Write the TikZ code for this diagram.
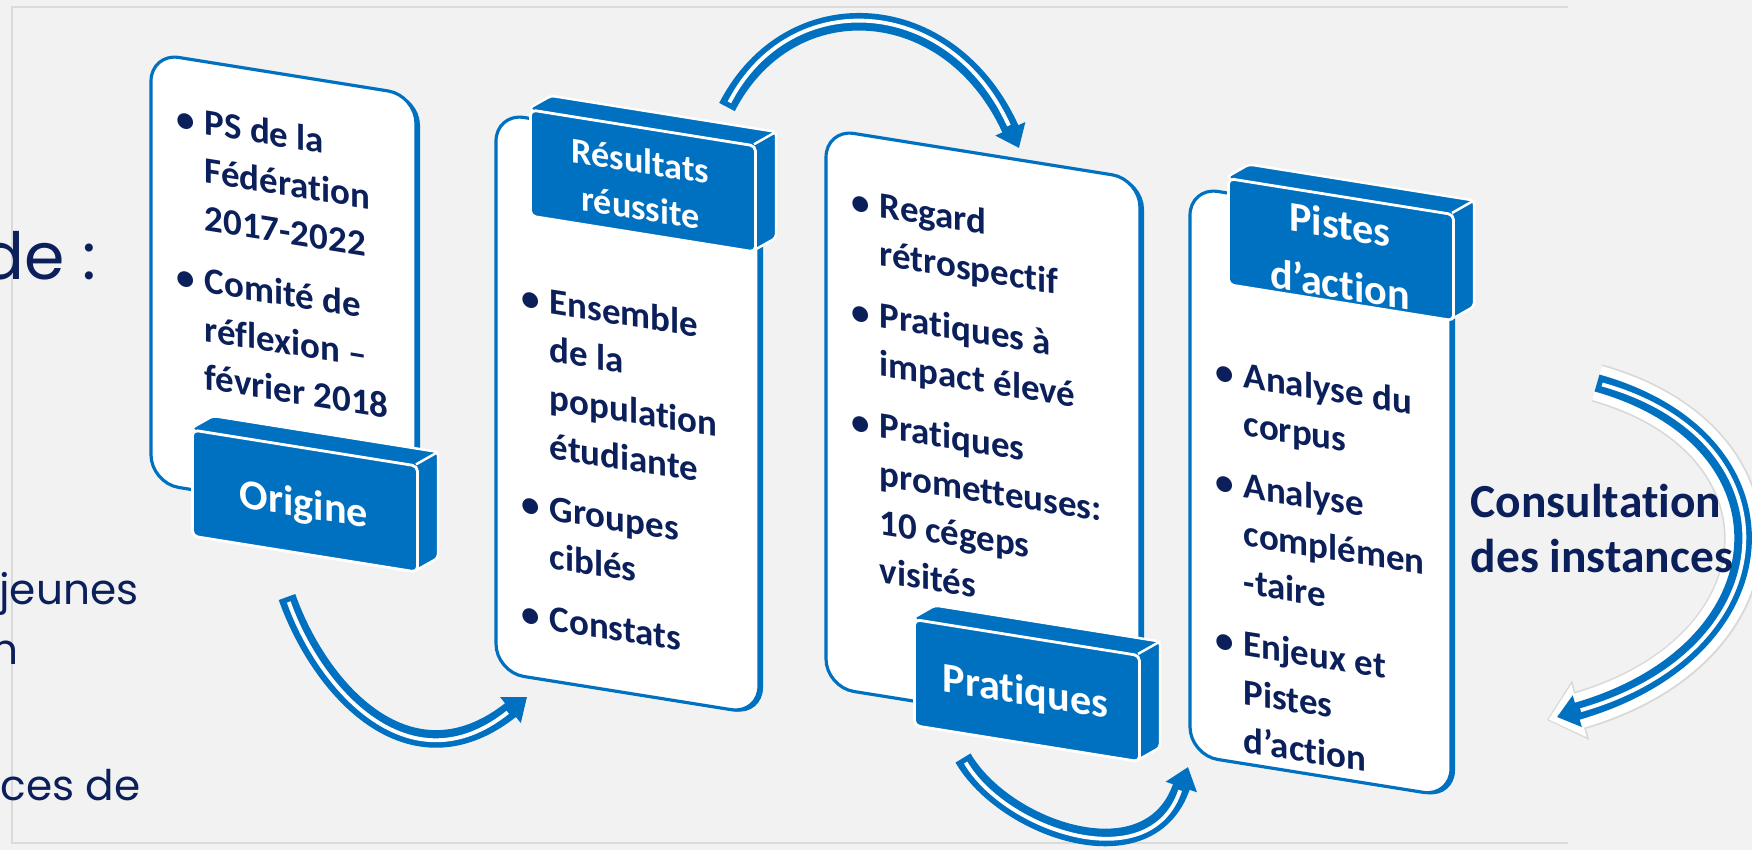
\documentclass[tikz,border=0pt]{standalone}
\usepackage{fontspec}
\setmainfont{Carlito}[Ligatures=NoCommon]
\newfontfamily\slidefont{Poppins}
\usetikzlibrary{arrows.meta}

\definecolor{boxblue}{HTML}{0070C0}
\definecolor{navy}{HTML}{0B1F5B}
\definecolor{slidebg}{HTML}{F2F2F2}
\definecolor{frameline}{HTML}{DADADA}

\newcommand\bl{\makebox[0.28cm][l]{\textbullet}}
% front face at (#1,#2), 225 x 106, depth (22,-16)
\newcommand\cube[3]{%
  \fill[cubeback] (#1,#2) -- ++(22,-16) -- ++(225,0) -- ++(0,106) -- ++(-22,16) -- cycle;
  \draw[cubeedge] (#1+225,#2) -- ++(22,-16);
  \node[cubefront, anchor=north west] (#3) at (#1,#2) {};
}

\tikzset{
  card/.style={fill=white, draw=boxblue, line width=0.9pt, rounded corners=8pt},
  cardedge/.style={fill=boxblue, rounded corners=8pt},
  cubeback/.style={fill=boxblue, draw=white, line width=0.7pt, rounded corners=1pt},
  cubeedge/.style={draw=white, line width=0.7pt},
  cubefront/.style={fill=boxblue, draw=white, line width=0.8pt, rounded corners=1.5pt,
    minimum width=2.25cm, minimum height=1.06cm, inner sep=0pt, transform shape},
  cubelabel/.style={text=white, font=\fontsize{12}{17}\selectfont\bfseries,
    inner sep=0pt, anchor=base, transform shape},
  cardtext/.style={text=navy, font=\fontsize{10.5}{13.7}\selectfont\bfseries,
    inner sep=0pt, anchor=base west, transform shape},
  slidetext/.style={text=navy, font=\slidefont\fontsize{12}{14}\selectfont,
    inner sep=0pt, anchor=base east},
  flow/.style={draw=boxblue, line width=5pt, -{Triangle[length=6pt,width=9pt]},
    postaction={draw=white, line width=1.1pt, -, shorten >=7pt, shorten <=1.5pt}},
  glow/.style={preaction={draw=gray!30, line width=11pt, shorten >=-3pt,
      -{Triangle[length=10pt,width=17pt]}},
    preaction={draw=white, line width=10pt, shorten >=-2.5pt,
      -{Triangle[length=9pt,width=15pt]}}}
}

\begin{document}
\begin{tikzpicture}[x=0.01cm, y=-0.01cm]
\useasboundingbox (0,0) rectangle (1752,850);
\fill[slidebg] (0,0) rectangle (1752,850);
\draw[frameline, line width=0.6pt] (1568,7) -- (12,7) -- (12,843) -- (1568,843);

% slide text behind the diagram
\node[slidetext, font=\slidefont\fontsize{18.5}{22}\selectfont] (slidede) at (97,279) {de :};
\node[slidetext] (slidejeunes) at (139,604) {jeunes};
\node[slidetext] (sliden) at (19,664) {n};
\node[slidetext] (slideces) at (141,800) {ces de};

% Origine
\begin{scope}[shift={(151,53)}, yslant=-0.16]
\fill[cardedge] (4,1) -- (269,1) -- (269,431) -- (4,431) -- cycle;
\draw[card] (0,0) -- (265,0) -- (265,430) -- (0,430) -- cycle;
\node[cardtext] (orgtxt) at (25,73) {\begin{tabular}[t]{@{}l@{}l@{}}
\bl&PS de la\\ &Fédération\\ &2017-2022\\[3.9pt]
\bl&Comité de\\ &réflexion –\\ &février 2018
\end{tabular}};
\cube{40}{369}{orig}
\node[cubelabel] at (153,440) {Origine};
\end{scope}

% Resultats reussite
\begin{scope}[shift={(496,113)}, yslant=-0.16]
\fill[cardedge] (4,1) -- (267,1) -- (267,560) -- (4,560) -- cycle;
\draw[card] (0,0) -- (263,0) -- (263,559) -- (0,559) -- cycle;
\node[cardtext] (restxt) at (25,192) {\begin{tabular}[t]{@{}l@{}l@{}}
\bl&Ensemble\\ &de la\\ &population\\ &étudiante\\[3.9pt]
\bl&Groupes\\ &ciblés\\[3.9pt]
\bl&Constats
\end{tabular}};
\cube{33}{-10}{resu}
\node[cubelabel, font=\fontsize{10.3}{13.3}\selectfont\bfseries] at (144.5,37)
  {\begin{tabular}[t]{@{}c@{}}Résultats\\réussite\end{tabular}};
\end{scope}

% Pratiques
\begin{scope}[shift={(826,129)}, yslant=-0.16]
\fill[cardedge] (4,1) -- (318,1) -- (318,559) -- (4,559) -- cycle;
\draw[card] (0,0) -- (314,0) -- (314,558) -- (0,558) -- cycle;
\node[cardtext] (prattxt) at (25,80) {\begin{tabular}[t]{@{}l@{}l@{}}
\bl&Regard\\ &rétrospectif\\[3.9pt]
\bl&Pratiques à\\ &impact élevé\\[3.9pt]
\bl&Pratiques\\ &prometteuses:\\ &10 cégeps\\ &visités
\end{tabular}};
\cube{87}{475}{prat}
\node[cubelabel] at (199.5,544) {Pratiques};
\end{scope}

% Pistes d'action
\begin{scope}[shift={(1190,187)}, yslant=-0.16]
\fill[cardedge] (4,1) -- (265,1) -- (265,569) -- (4,569) -- cycle;
\draw[card] (0,0) -- (261,0) -- (261,568) -- (0,568) -- cycle;
\node[cardtext] (pisttxt) at (25,192) {\begin{tabular}[t]{@{}l@{}l@{}}
\bl&Analyse du\\ &corpus\\[3.9pt]
\bl&Analyse\\ &complémen\\ &-taire\\[3.9pt]
\bl&Enjeux et\\ &Pistes\\ &d’action
\end{tabular}};
\cube{37}{-16}{pist}
\node[cubelabel] at (150,28) {\begin{tabular}[t]{@{}c@{}}Pistes\\d’action\end{tabular}};
\end{scope}

% curved arrows
\coordinate (a1s) at (287,597);
\coordinate (a1e) at (527,697);
\coordinate (a2s) at (727,107);
\coordinate (a2e) at (1019,148);
\coordinate (a3s) at (963,758);
\coordinate (a3e) at (1188,767);
\coordinate (a4s) at (1597,383);
\coordinate (a4e) at (1557,717);

\draw[flow] (a1s) .. controls (320,690) and (410,790) .. (a1e);
\draw[flow] (a2s) .. controls (790,-15) and (950,-5) .. (a2e);
\draw[flow] (a3s) .. controls (1005,830) and (1150,880) .. (a3e);
\draw[flow, glow] (a4s) .. controls (1800,440) and (1790,650) .. (a4e);

\node[text=navy, font=\fontsize{13.5}{15.9}\selectfont\bfseries, inner sep=0pt,
  anchor=base west] (cons) at (1470,517)
  {\begin{tabular}[t]{@{}l@{}}Consultation\\des instances\end{tabular}};
\end{tikzpicture}
\end{document}
